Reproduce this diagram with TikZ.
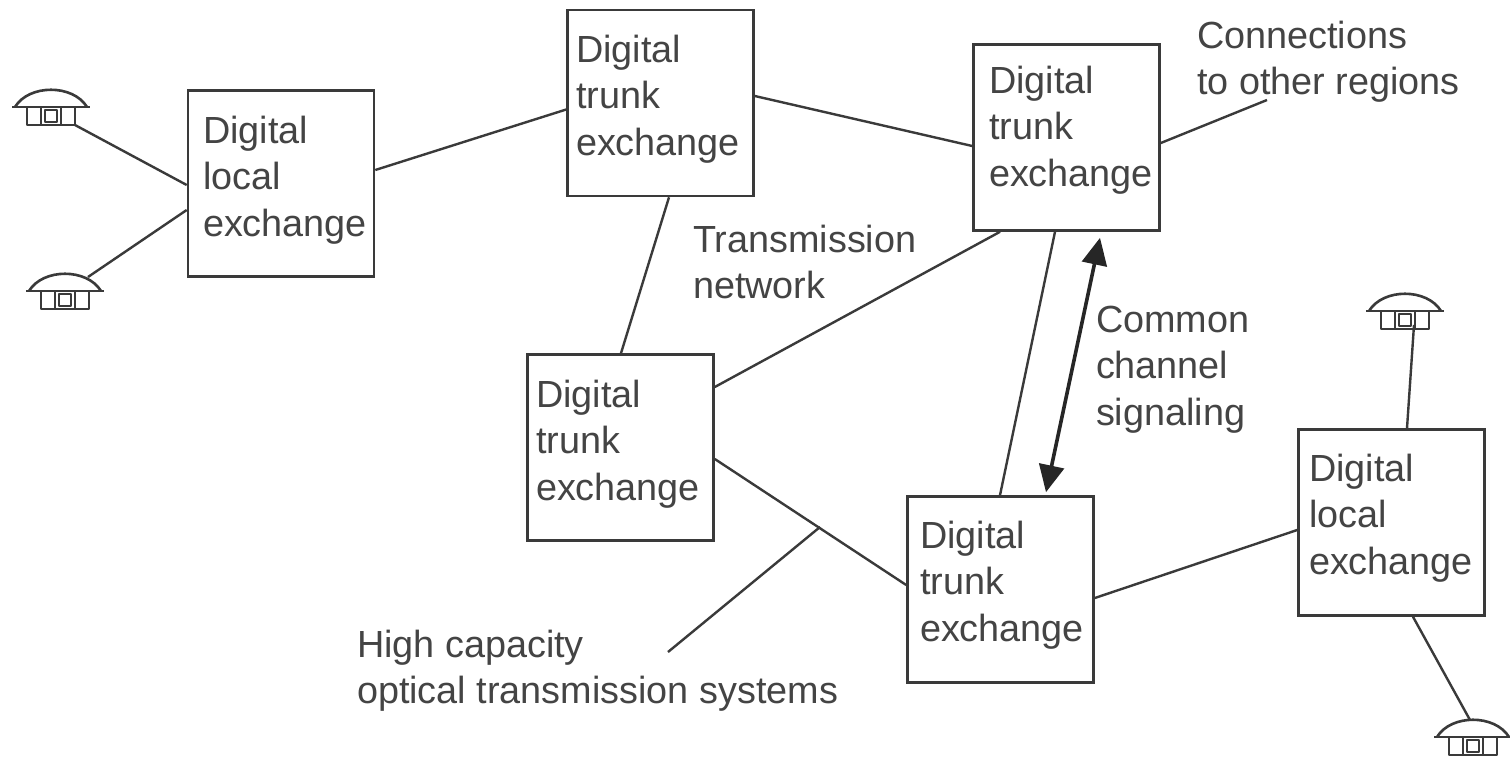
\documentclass[tikz,border=0pt]{standalone}
\usepackage{fontspec}
\setmainfont{Liberation Sans}
\usetikzlibrary{arrows.meta,calc}
\definecolor{ink}{HTML}{3A3A3A}
\definecolor{txtc}{HTML}{444444}
\tikzset{
  exbox/.style={draw=ink,line width=2.6pt,fill=white,inner sep=0pt,minimum width=186pt,minimum height=186pt},
  lbl/.style={text=txtc,font=\fontsize{37.8}{46.5}\selectfont,align=left,anchor=north west,inner sep=0pt,outer sep=0pt},
  wire/.style={draw=ink,line width=2.4pt},
  phonespot/.style={inner sep=0pt,minimum width=78pt,minimum height=36pt},
  phoneline/.style={draw=ink,line width=2.6pt,line join=round},
  sigline/.style={draw=black!85,line width=3.6pt,{Triangle[length=27pt,width=25pt]}-{Triangle[length=27pt,width=25pt]}}
}
\newcommand{\phoneat}[3]{%
  \node[phonespot] (#1) at (#2,#3) {};
  \begin{scope}[shift={(#2,#3)}]
    \draw[phoneline] (-39,0) -- (39,0);
    \draw[phoneline] (-36,0) .. controls (-22,-23) and (22,-23) .. (36,0);
    \draw[phoneline,fill=white] (-24,0) rectangle (24,18);
    \draw[phoneline] (-10,0) -- (-10,18) (10,0) -- (10,18);
    \draw[phoneline] (-6,3) rectangle (6,15);
  \end{scope}}
\begin{document}
\begin{tikzpicture}[x=1pt,y=-1pt]
\useasboundingbox (0,0) rectangle (1510,758);
\fill[white] (0,0) rectangle (1510,758);
% exchanges
\node[exbox] (a) at (281,183.5) {};
\node[exbox] (b) at (660.5,103) {};
\node[exbox] (c) at (1066.5,137.5) {};
\node[exbox] (d) at (620.5,447.5) {};
\node[exbox] (e) at (1000.5,589.5) {};
\node[exbox] (f) at (1391.5,522.5) {};
% exchange labels
\node[lbl] (ta) at (203,116) {Digital\\local\\exchange};
\node[lbl] (tb) at (576,35) {Digital\\trunk\\exchange};
\node[lbl] (tc) at (989,66) {Digital\\trunk\\exchange};
\node[lbl] (td) at (536,380) {Digital\\trunk\\exchange};
\node[lbl] (te) at (920,521) {Digital\\trunk\\exchange};
\node[lbl] (tf) at (1309,454) {Digital\\local\\exchange};
% other labels
\node[lbl] (t1) at (1197,21) {Connections\\to other regions};
\node[lbl] (t2) at (693,225) {Transmission\\network};
\node[lbl] (t3) at (1096,306) {Common\\channel\\signaling};
\node[lbl] (t4) at (357,630) {High capacity\\optical transmission systems};
% telephones
\phoneat{p1}{51}{107}
\phoneat{p2}{65}{291}
\phoneat{p3}{1405}{311}
\phoneat{p4}{1473}{737}
% free leader ends
\coordinate (c1) at (1267,100);
\coordinate (j1) at (820,527);
\coordinate (j2) at (668,652);
% connectors
\draw[wire] ([xshift=24pt,yshift=-18pt]p1.center) -- ([yshift=-1.5pt]a.west);
\draw[wire] ([xshift=23pt,yshift=14pt]p2.center) -- ([yshift=-26.5pt]a.west);
\draw[wire] ([yshift=13.5pt]a.east) -- ([yshift=-6.5pt]b.west);
\draw[wire] ([yshift=7pt]b.east) -- ([yshift=-8.5pt]c.west);
\draw[wire] ([xshift=8.5pt]b.south) -- ([xshift=0.5pt]d.north);
\draw[wire] ([xshift=-66.5pt]c.south) -- ([yshift=60.5pt]d.east);
\draw[wire] ([xshift=-11.5pt]c.south) -- ([xshift=-0.5pt]e.north);
\draw[wire] ([yshift=-11.5pt]d.east) -- ([yshift=4.5pt]e.west);
\draw[wire] ([yshift=-8.5pt]e.east) -- ([yshift=-7.5pt]f.west);
\draw[wire] ([yshift=-5.5pt]c.east) -- (c1);
\draw[wire] (j1) -- (j2);
\draw[wire] ([xshift=15.5pt]f.north) -- ([xshift=9pt,yshift=-14pt]p3.center);
\draw[wire] ([xshift=21.5pt]f.south) -- ([xshift=-3pt,yshift=17pt]p4.center);
% signalling arrow
\draw[sigline] ([xshift=33.5pt,yshift=-6pt]c.south) -- ([xshift=45.5pt,yshift=3pt]e.north);
\end{tikzpicture}
\end{document}
